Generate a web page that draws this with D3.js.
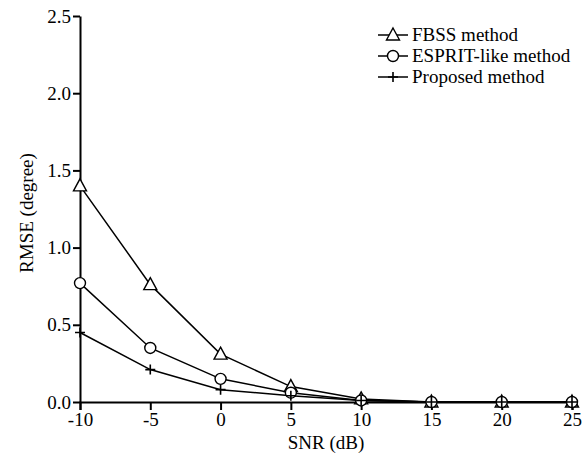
<!DOCTYPE html>
<html>
<head>
<meta charset="utf-8">
<script src="https://cdn.jsdelivr.net/npm/d3@7"></script>
<style>
  body { margin: 0; background: #fff; }
  svg text { font-family: "Liberation Serif", "Times New Roman", serif; fill: #000; }
</style>
</head>
<body>
<svg id="chart" width="583" height="466"></svg>
<script>
// SNR values (dB)
var snr = [-10, -5, 0, 5, 10, 15, 20, 25];
// RMSE (degree) per method
var fbss = [1.40, 0.76, 0.31, 0.10, 0.02, 0.0, 0.0, 0.0];
var esprit = [0.77, 0.35, 0.15, 0.06, 0.01, 0.0, 0.0, 0.0];
var proposed = [0.45, 0.21, 0.08, 0.04, 0.01, 0.0, 0.0, 0.0];
var seriesNames = ["FBSS method", "ESPRIT-like method", "Proposed method"];
var markers = ["triangle", "circle", "plus"];
var xTicks = [-10, -5, 0, 5, 10, 15, 20, 25];
var yTicks = [0, 0.5, 1.0, 1.5, 2.0, 2.5];

var width = 583, height = 466;
var margin = { top: 16, right: 11, bottom: 64, left: 80 };
var fontSize = "19px";

var x = d3.scaleLinear()
    .domain([-10, 25])
    .range([margin.left, width - margin.right]);
var y = d3.scaleLinear()
    .domain([0, 2.5])
    .range([height - margin.bottom, margin.top]);

var svg = d3.select("#chart");

// plain hyphen for negatives, like the original
var xFormat = function (d) { return String(d); };

var xAxis = function (g) { return g
    .attr("transform", "translate(0," + (height - margin.bottom) + ")")
    .call(d3.axisBottom(x).tickValues(xTicks).tickSize(8).tickPadding(3).tickFormat(xFormat))
    .call(function (g) { g.selectAll("line,path").attr("stroke-width", 2); })
    .call(function (g) { g.selectAll("text").attr("font-size", fontSize); }); };

var yAxis = function (g) { return g
    .attr("transform", "translate(" + margin.left + ",0)")
    .call(d3.axisLeft(y).tickValues(yTicks).tickSize(7).tickSizeOuter(0).tickPadding(2).tickFormat(d3.format(".1f")))
    .call(function (g) { g.selectAll("line,path").attr("stroke-width", 2); })
    .call(function (g) { g.selectAll("text").attr("font-size", fontSize); }); };

svg.append("g").call(xAxis);
svg.append("g").call(yAxis);

svg.append("text")
    .attr("x", (margin.left + width - margin.right) / 2)
    .attr("y", 449)
    .attr("text-anchor", "middle")
    .attr("font-size", fontSize)
    .text("SNR (dB)");

svg.append("text")
    .attr("transform", "translate(33,213) rotate(-90)")
    .attr("text-anchor", "middle")
    .attr("font-size", fontSize)
    .text("RMSE (degree)");

var allSeries = [fbss, esprit, proposed];

var line = d3.line()
    .x(function (d, i) { return x(snr[i]); })
    .y(function (d) { return y(d); });

function drawMarker(g, type, cx, cy) {
    if (type === "triangle") {
        g.append("path")
            .attr("d", "M" + cx + "," + (cy - 7) + "L" + (cx + 6.5) + "," + (cy + 5) + "L" + (cx - 6.5) + "," + (cy + 5) + "Z")
            .attr("fill", "#fff").attr("stroke", "#000").attr("stroke-width", 1.4);
    } else if (type === "circle") {
        g.append("circle")
            .attr("cx", cx).attr("cy", cy).attr("r", 5.5)
            .attr("fill", "#fff").attr("stroke", "#000").attr("stroke-width", 1.4);
    } else {
        g.append("path")
            .attr("d", "M" + (cx - 5) + "," + cy + "H" + (cx + 5) + "M" + cx + "," + (cy - 5) + "V" + (cy + 5))
            .attr("stroke", "#000").attr("stroke-width", 1.6);
    }
}

allSeries.forEach(function (vals) {
    svg.append("path")
        .datum(vals)
        .attr("fill", "none")
        .attr("stroke", "#000")
        .attr("stroke-width", 1.5)
        .attr("d", line);
});

allSeries.forEach(function (vals, k) {
    var g = svg.append("g");
    vals.forEach(function (v, i) {
        drawMarker(g, markers[k], x(snr[i]), y(v));
    });
});

// legend
var legend = svg.append("g");
seriesNames.forEach(function (name, k) {
    var ly = 35 + k * 21;
    legend.append("line")
        .attr("x1", 378).attr("x2", 408)
        .attr("y1", ly).attr("y2", ly)
        .attr("stroke", "#000").attr("stroke-width", 1.5);
    drawMarker(legend, markers[k], 393, ly);
    legend.append("text")
        .attr("x", 412).attr("y", ly + 6)
        .attr("font-size", fontSize)
        .text(name);
});
</script>
</body>
</html>
